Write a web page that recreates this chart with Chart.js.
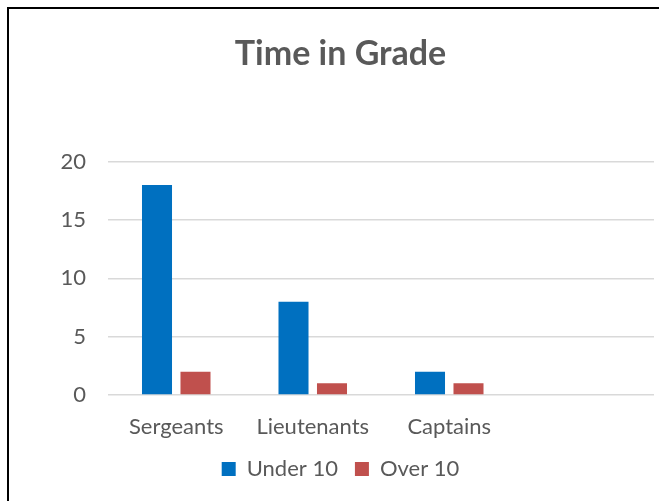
<!DOCTYPE html>
<html>
<head>
<meta charset="utf-8">
<script src="https://cdn.jsdelivr.net/npm/chart.js@4"></script>
<style>
  html, body { margin: 0; padding: 0; background: #fff; overflow: hidden; }
  #frame {
    position: absolute; left: 7px; top: 7px;
    width: 664px; height: 500px;
    border: 2px solid #000; background: #fff;
  }
</style>
</head>
<body>
<div id="frame"><canvas id="chart" width="664" height="500"></canvas></div>
<script>
const categories = ["Sergeants", "Lieutenants", "Captains", ""];
const under10 = [18, 8, 2];
const over10 = [2, 1, 1];
const yTicks = [0, 5, 10, 15, 20];

const font = "Lato, 'Open Sans', sans-serif";
const grey = "#595959";

new Chart(document.getElementById("chart"), {
  type: "bar",
  data: {
    labels: categories,
    datasets: [
      { label: "Under 10", data: under10, backgroundColor: "#0070C0" },
      { label: "Over 10", data: over10, backgroundColor: "#C0504D" }
    ]
  },
  options: {
    responsive: false,
    animation: false,
    categoryPercentage: 0.564,
    barPercentage: 0.78,
    layout: { padding: { top: 25, right: 19, bottom: 19, left: 18 } },
    plugins: {
      title: {
        display: true,
        text: "Time in Grade",
        color: grey,
        font: { family: font, size: 34, weight: "bold" },
        padding: { top: 0, bottom: 87 }
      },
      legend: {
        position: "bottom",
        labels: {
          color: grey,
          font: { family: font, size: 22 },
          boxWidth: 14,
          boxHeight: 14,
          padding: 17
        }
      },
      tooltip: { enabled: false }
    },
    scales: {
      x: {
        afterFit: axis => { axis.height = 46; },
        grid: { display: false },
        border: { display: false },
        ticks: { color: grey, font: { family: font, size: 22 }, padding: 11 }
      },
      y: {
        min: 0,
        max: 20,
        afterBuildTicks: axis => { axis.ticks = yTicks.map(v => ({ value: v })); },
        afterFit: axis => { axis.width = 81; },
        grid: { color: "#d9d9d9", lineWidth: 1.5, drawTicks: false },
        border: { display: false },
        ticks: { color: grey, font: { family: font, size: 22 }, padding: 22 }
      }
    }
  }
});
</script>
</body>
</html>
